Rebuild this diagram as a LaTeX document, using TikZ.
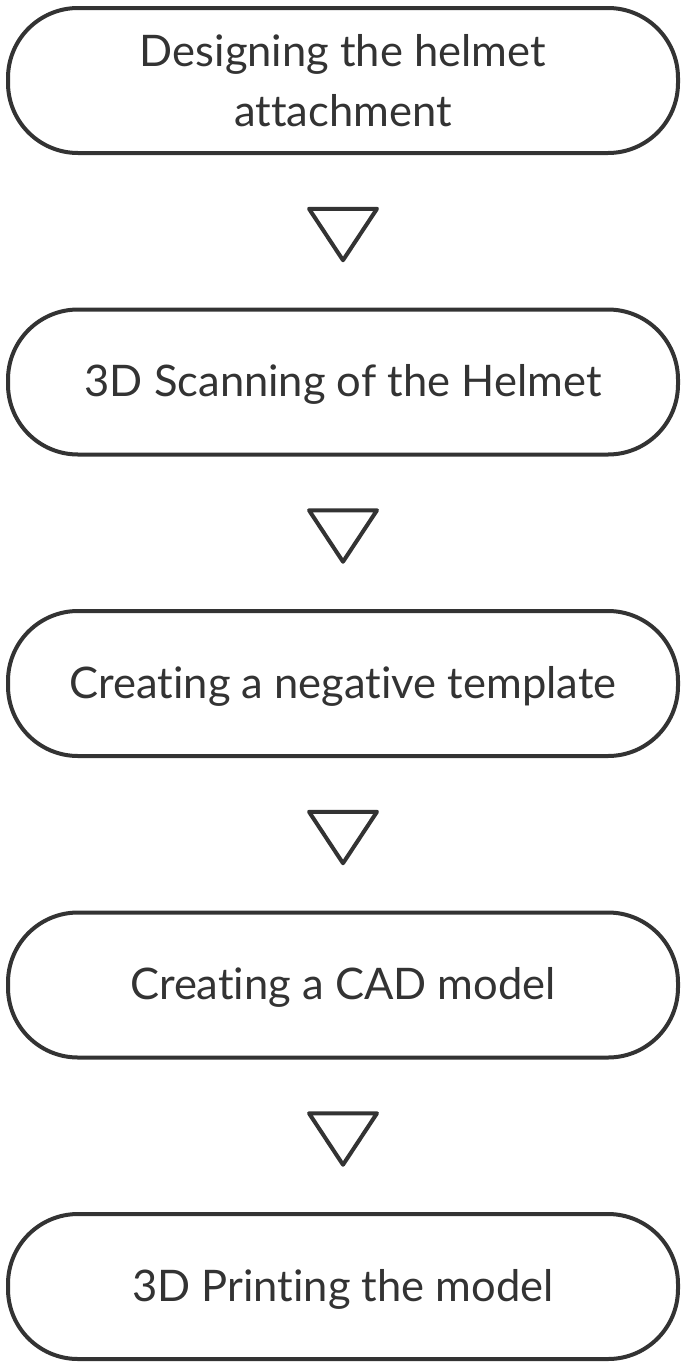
\documentclass[tikz,border=0pt]{standalone}
\usepackage{fontspec}
\setmainfont{Lato}[Ligatures=NoCommon]
\usetikzlibrary{calc}
\definecolor{ink}{HTML}{333333}
\begin{document}
\begin{tikzpicture}[x=1pt,y=-1pt,
  stadium/.style={draw=ink, line width=4pt, rounded corners=70pt,
    minimum width=670pt, minimum height=145pt, inner sep=0pt,
    text=ink, align=center, font=\fontsize{43.5}{60}\selectfont},
  oneline/.style={stadium, text height=29pt, text depth=0pt},
  tri/.style={draw=ink, line width=4pt, line join=round}]
\useasboundingbox (0,0) rectangle (686,1368);
\node[stadium] (b1) at (343,80.5) {Designing the helmet\\attachment};
\node[oneline] (b2) at (343,382) {3D Scanning of the Helmet};
\node[oneline] (b3) at (343,683.5) {Creating a negative template};
\node[oneline] (b4) at (343,985) {Creating a CAD model};
\node[oneline] (b5) at (343,1286.5) {3D Printing the model};
\foreach \a/\b [count=\i] in {b1/b2,b2/b3,b3/b4,b4/b5}{
  \coordinate (m\i) at ($(\a.south)!0.5!(\b.north)$);
  \draw[tri] ([xshift=-34pt,yshift=22.5pt]m\i) -- ([xshift=34pt,yshift=22.5pt]m\i)
    -- ([yshift=-29pt]m\i) -- cycle;
}
\end{tikzpicture}
\end{document}
